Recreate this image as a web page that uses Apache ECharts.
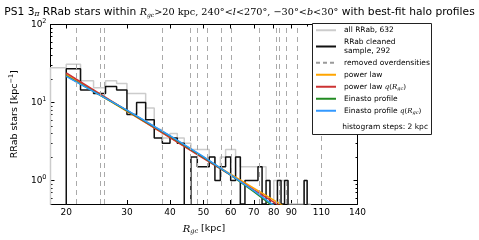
<!DOCTYPE html>
<html><head><meta charset="utf-8">
<script src="https://cdn.jsdelivr.net/npm/echarts@6/dist/echarts.min.js"></script>
<style>html,body{margin:0;padding:0;background:#fff}#c{width:479px;height:240px}</style>
</head><body><div id="c"></div>
<script>
// ---------- data ----------
const binWidth = 2;                 // kpc
const allStart = 18;                // first bin edge of "all RRab"
const allRRab = [28, 31, 19, 15.5, 19, 17.5, 13, 13, 8.5, 4.5, 3.5, 4, 3.5, 3, 2.5, 2.5, 2.5, 2, 1.5, 2,
  2.5, 2.5, 2, 1.5, 1.5, 1.5, 1.5, 1.5, 1.5, 1, 0.5, 1, 1, 1, 1, 0.5, 0.5, 0.5, 0.5, 0.5,
  1, 0.5, 0, 0, 0, 0, 0, 0, 0, 0, 0, 0, 0, 0, 0, 0, 0, 0, 0, 0, 0];
const cleanStart = 20;
const cleaned = [27, 14.5, 13, 16, 14.5, 7, 10, 6, 3.5, 3, 3.5, 3, 0, 2, 1.5, 1.5, 2, 1, 1.5, 2,
  1, 2, 0.5, 1, 1, 1, 1.5, 0.5, 1, 0.5, 0.5, 1, 0.5, 1, 0, 0, 0, 0, 0, 1,
  0, 0, 0, 0, 0, 0, 0, 0, 0, 0, 0, 0, 0, 0, 0, 0, 0, 0, 0, 0];
const overdensities = [21.25, 25.05, 25.45, 37.8, 45.3, 45.5, 45.7, 48.2, 51.6, 56.3, 60.5, 72.4, 81.3, 82.9, 88.1, 93.4, 93.7, 110.3];
const fitR = [20, 30, 40, 50, 60, 70, 80, 90];
const powerLaw = [22.8, 7.7, 3.57, 1.97, 1.21, 0.80, 0.56, 0.41];
const powerLawQ = [23.9, 7.84, 3.55, 1.92, 1.17, 0.76, 0.53, 0.38];
const einasto = [22.0, 7.9, 3.7, 2.0, 1.17, 0.72, 0.46, 0.30];
const einastoQ = [21.6, 8.0, 3.75, 2.02, 1.18, 0.74, 0.48, 0.32];
const xTickLabels = [20, 30, 40, 50, 60, 70, 80, 90, 110, 140];
const xMinorTicks = [100];
const yMajor = [1, 10, 100];
const yMinor = [0.6, 0.7, 0.8, 0.9, 2, 3, 4, 5, 6, 7, 8, 9, 20, 30, 40, 50, 60, 70, 80, 90];
const xRange = [18, 140];
const yRange = [0.5, 100];

// ---------- helpers ----------
const L = Math.log10;
const yFloor = L(yRange[0]) - 0.2;
function histPoints(start, vals) {
  const pts = [[L(start), yFloor]];
  vals.forEach((v, i) => {
    const a = start + i * binWidth, b = a + binWidth;
    const y = v > 0 ? L(v) : yFloor;
    pts.push([L(a), y], [L(b), y]);
  });
  pts.push([L(start + vals.length * binWidth), yFloor]);
  return pts;
}
const fitPts = vals => fitR.map((r, i) => [L(r), L(vals[i])]);

const FONT = 'DejaVu Sans';
const SERIF = 'DejaVu Serif';
const tickStyle = { color: '#000', width: 1 };

function xAx(pos, ticks, len, showLine, labels) {
  return {
    type: 'value', position: pos, min: L(xRange[0]), max: L(xRange[1]),
    splitLine: { show: false },
    axisLine: { show: showLine, onZero: false, lineStyle: { color: '#000', width: 1 } },
    axisTick: { show: true, inside: true, length: len, customValues: ticks.map(L), lineStyle: tickStyle },
    axisLabel: labels ? {
      show: true, customValues: ticks.map(L), margin: 4,
      fontFamily: FONT, fontSize: 9, color: '#000',
      formatter: v => String(Math.round(Math.pow(10, v)))
    } : { show: false }
  };
}
function yAx(pos, ticks, len, showLine, labels) {
  return {
    type: 'value', position: pos, min: L(yRange[0]), max: L(yRange[1]),
    splitLine: { show: false },
    axisLine: { show: showLine, onZero: false, lineStyle: { color: '#000', width: 1 } },
    axisTick: { show: true, inside: true, length: len, customValues: ticks.map(L), lineStyle: tickStyle },
    axisLabel: labels ? {
      show: true, customValues: ticks.map(L), margin: 4, color: '#000',
      formatter: v => '{b|10}{e|' + Math.round(v) + '}',
      rich: {
        b: { fontFamily: FONT, fontSize: 9, color: '#000' },
        e: { fontFamily: FONT, fontSize: 6.5, color: '#000', padding: [0, 0, 7, 0] }
      }
    } : { show: false }
  };
}

const xAxes = [
  xAx('bottom', xTickLabels, 4, true, true),
  xAx('bottom', xMinorTicks, 2, false, false),
  xAx('top', xTickLabels, 4, true, false),
  xAx('top', xMinorTicks, 2, false, false)
];
Object.assign(xAxes[0], {
  name: '{it|R}{sub|gc}{t| [kpc]}', nameLocation: 'middle', nameGap: 19,
  nameTextStyle: { rich: {
    it: { fontFamily: SERIF, fontStyle: 'italic', fontSize: 10, color: '#000' },
    sub: { fontFamily: SERIF, fontStyle: 'italic', fontSize: 6.5, color: '#000', padding: [5, 0, 0, 0] },
    t: { fontFamily: FONT, fontSize: 9.5, color: '#000' } } }
});
const yAxes = [
  yAx('left', yMajor, 4, true, true),
  yAx('left', yMinor, 2, false, false),
  yAx('right', yMajor, 4, true, false),
  yAx('right', yMinor, 2, false, false)
];
Object.assign(yAxes[0], {
  name: '{t|RRab stars [kpc}{s|−1}{t|]}', nameLocation: 'middle', nameGap: 26, nameRotate: 90,
  nameTextStyle: { rich: {
    t: { fontFamily: FONT, fontSize: 9.5, color: '#000' },
    s: { fontFamily: FONT, fontSize: 6.5, color: '#000', padding: [0, 0, 7, 0] } } }
});

const lineSeries = (name, data, color, width) => ({
  name, type: 'line', data, symbol: 'none', showSymbol: false, clip: true,
  xAxisIndex: 0, yAxisIndex: 0, lineStyle: { color, width }, itemStyle: { color },
  emphasis: { disabled: true }, silent: true
});

const legendRich = {
  mi: { fontFamily: SERIF, fontStyle: 'italic', fontSize: 7, color: '#000' },
  mr: { fontFamily: SERIF, fontSize: 7, color: '#000' },
  sub: { fontFamily: SERIF, fontStyle: 'italic', fontSize: 5, color: '#000', padding: [3, 0, 0, 0] }
};
const legendText = {
  'RRab cleaned sample, 292': 'RRab cleaned\nsample, 292',
  'power law q(R_gc)': 'power law {mi|q}{mr|(}{mi|R}{sub|gc}{mr|)}',
  'Einasto profile q(R_gc)': 'Einasto profile {mi|q}{mr|(}{mi|R}{sub|gc}{mr|)}'
};

const N = { fontWeight: 'normal', color: '#000' };
const option = {
  animation: false,
  backgroundColor: '#fff',
  title: {
    left: 'center', top: 2,
    text: '{s|PS1 3}{pi|π}{s| RRab stars within }{mi|R}{sub|gc}{m|>20 kpc, 240°<}{mi|l}{m|<270°, −30°<}{mi|b}{m|<30°}{s| with best-fit halo profiles}',
    textStyle: { fontWeight: 'normal', fontSize: 10.5, rich: {
      s: Object.assign({ fontFamily: FONT, fontSize: 10.7 }, N),
      pi: Object.assign({ fontFamily: SERIF, fontStyle: 'italic', fontSize: 7.5, padding: [3, 0, 0, 0] }, N),
      m: Object.assign({ fontFamily: SERIF, fontSize: 9.7 }, N),
      mi: Object.assign({ fontFamily: SERIF, fontStyle: 'italic', fontSize: 9.7 }, N),
      sub: Object.assign({ fontFamily: SERIF, fontStyle: 'italic', fontSize: 6, padding: [5, 0, 0, 0] }, N)
    } }
  },
  grid: { left: 44, top: 24.5, width: 313.5, height: 186, show: false },
  xAxis: xAxes,
  yAxis: yAxes,
  legend: {
    z: 60, orient: 'vertical', left: 315, top: 26, padding: 0,
    itemWidth: 20, itemHeight: 8, itemGap: 3.5,
    itemStyle: { opacity: 0 },
    data: ['all RRab, 632', 'RRab cleaned sample, 292', 'removed overdensities', 'power law',
      'power law q(R_gc)', 'Einasto profile', 'Einasto profile q(R_gc)'],
    formatter: n => legendText[n] || n,
    textStyle: { fontFamily: FONT, fontSize: 7.5, lineHeight: 8.5, color: '#000', padding: [0, 0, 0, 3], rich: legendRich },
    selectedMode: false
  },
  graphic: [
    { type: 'rect', z: 50, shape: { x: 312.5, y: 23.5, width: 119, height: 111 },
      style: { fill: '#fff', stroke: '#222', lineWidth: 1 } },
    { type: 'text', z: 61, x: 428, y: 127,
      style: { text: 'histogram steps: 2 kpc', fill: '#000', font: '7.5px "DejaVu Sans"', align: 'right', verticalAlign: 'middle' } }
  ],
  series: [
    {
      name: 'removed overdensities', type: 'line', data: [], symbol: 'none', silent: true,
      xAxisIndex: 0, yAxisIndex: 0,
      lineStyle: { color: '#9a9a9a', type: [4, 3], width: 1 }, itemStyle: { color: '#9a9a9a' },
      markLine: {
        silent: true, symbol: ['none', 'none'], label: { show: false }, animation: false,
        lineStyle: { color: '#aaaaaa', type: [5, 4], width: 1 },
        emphasis: { disabled: true },
        data: overdensities.map(r => ({ xAxis: L(r) }))
      }
    },
    lineSeries('all RRab, 632', histPoints(allStart, allRRab), '#cccccc', 1.5),
    lineSeries('RRab cleaned sample, 292', histPoints(cleanStart, cleaned), '#111111', 1.5),
    lineSeries('power law', fitPts(powerLaw), '#ffa500', 1.5),
    lineSeries('power law q(R_gc)', fitPts(powerLawQ), '#cc3333', 1.5),
    lineSeries('Einasto profile', fitPts(einasto), '#228b22', 1.5),
    lineSeries('Einasto profile q(R_gc)', fitPts(einastoQ), '#3399ff', 1.5)
  ]
};
const chart = echarts.init(document.getElementById('c'), null, { renderer: 'canvas' });
chart.setOption(option);
</script></body></html>
